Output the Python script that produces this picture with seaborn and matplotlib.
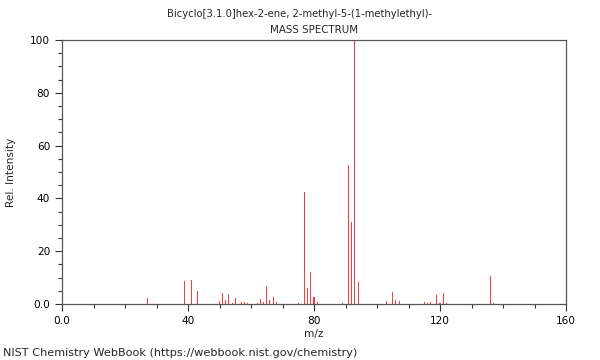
import matplotlib
matplotlib.use("Agg")
import matplotlib.pyplot as plt
import seaborn as sns
import pandas as pd
from matplotlib.ticker import MultipleLocator, FixedLocator

mz = [27, 39, 41, 43, 50, 51, 52, 53, 54, 55, 57, 58, 59, 62, 63, 64, 65, 66, 67, 68,
      75, 77, 78, 79, 80, 81, 89, 91, 92, 93, 94, 103, 105, 106, 107,
      115, 116, 117, 119, 120, 121, 122, 136, 137]
intensity = [2.3, 8.8, 9.2, 4.8, 1.3, 4.3, 1.6, 3.9, 0.5, 2.3, 0.6, 0.6, 0.4, 0.5, 2.0, 0.9, 7.0, 1.4, 2.5, 0.6,
             0.4, 42.3, 6.2, 12.1, 2.7, 0.6, 0.4, 52.5, 31.0, 100.0, 8.3, 1.3, 4.7, 1.6, 1.3,
             0.9, 0.4, 0.9, 3.3, 0.5, 4.3, 0.4, 10.7, 0.5]

x_ticks = [0, 40, 80, 120, 160]
x_tick_labels = ["0.0", "40", "80", "120", "160"]
y_ticks = [0, 20, 40, 60, 80, 100]
y_tick_labels = ["0.0", "20", "40", "60", "80", "100"]

title1 = "Bicyclo[3.1.0]hex-2-ene, 2-methyl-5-(1-methylethyl)-"
title2 = "MASS SPECTRUM"
footer = "NIST Chemistry WebBook (https://webbook.nist.gov/chemistry)"

sns.set_style("ticks")
plt.rcParams['font.family'] = ['DejaVu Sans']

df = pd.DataFrame({"mz": mz, "intensity": intensity})

fig = plt.figure(figsize=(6, 3.6), dpi=100)
ax = fig.add_axes([62/600, 1-304/360, 504/600, 264/360])

sns.histplot(data=df, x="mz", weights="intensity", discrete=True, shrink=0.34,
             color="#ff3a3a", alpha=1.0, linewidth=0, ax=ax)

ax.set_xlim(0, 160)
ax.set_ylim(0, 100)
ax.xaxis.set_major_locator(FixedLocator(x_ticks))
ax.set_xticklabels(x_tick_labels)
ax.yaxis.set_major_locator(FixedLocator(y_ticks))
ax.set_yticklabels(y_tick_labels)
ax.xaxis.set_minor_locator(MultipleLocator(10))
ax.yaxis.set_minor_locator(MultipleLocator(5))

fs = 7.6
ax.tick_params(axis="both", which="major", length=5, width=0.8, colors="#333333",
               labelsize=fs, labelcolor="black", direction="out")
ax.tick_params(axis="both", which="minor", length=3, width=0.8, colors="#333333",
               direction="out")
for s in ax.spines.values():
    s.set_visible(True)
    s.set_color("#555555")
    s.set_linewidth(0.9)

ax.set_xlabel("m/z", fontsize=fs)
ax.set_ylabel("Rel. Intensity", fontsize=fs)
ax.xaxis.set_label_coords(0.5, -0.095)
ax.yaxis.set_label_coords(-0.092, 0.5)

fig.text(300/600, 1-14/360, title1, ha="center", va="center", fontsize=7.2)
fig.text(314/600, 1-30/360, title2, ha="center", va="center", fontsize=7.4)
fig.text(3/600, 1-353/360, footer, ha="left", va="center", fontsize=8.1)

fig.savefig("out.png", dpi=100)
